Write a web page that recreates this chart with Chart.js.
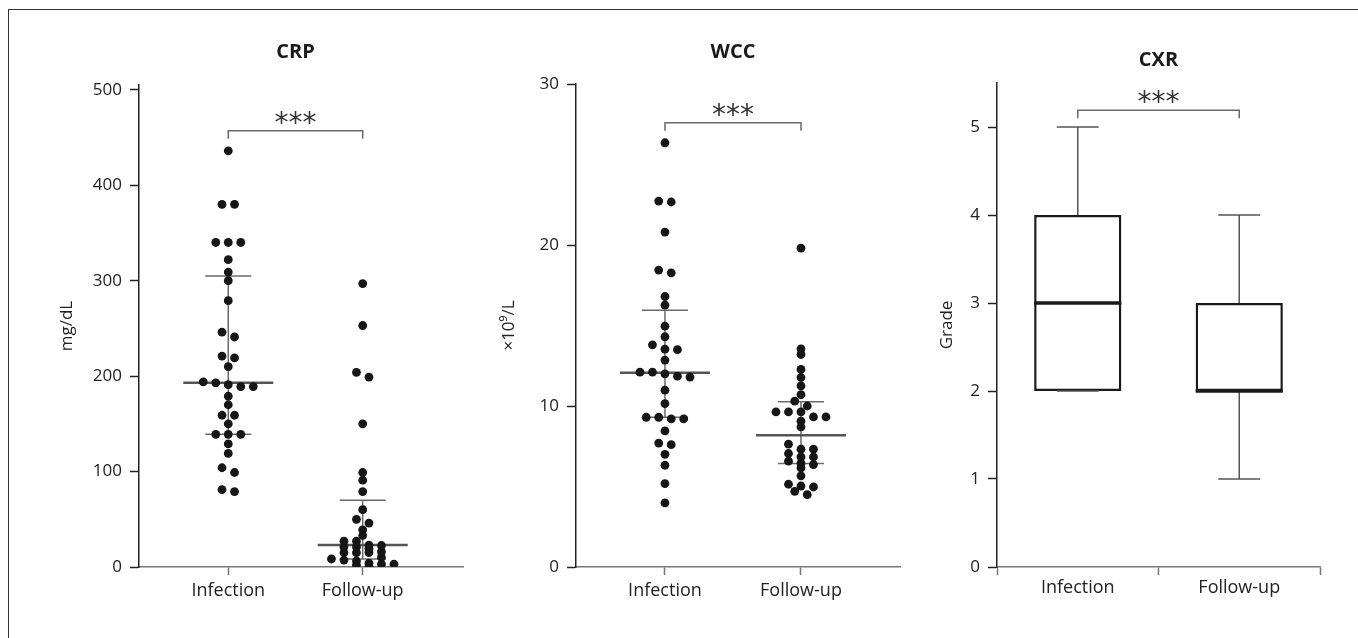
<!DOCTYPE html>
<html>
<head>
<meta charset="utf-8">
<script src="https://cdn.jsdelivr.net/npm/chart.js@4/dist/chart.umd.min.js"></script>
<style>
  html, body { margin: 0; background: #fff; overflow: hidden; }
  #frame { position: absolute; left: 8px; top: 9px; width: 1400px; height: 700px;
           border-left: 1.5px solid #333; border-top: 1.5px solid #333; }
  canvas { position: absolute; top: 0; }
</style>
</head>
<body>
<div id="frame"></div>
<canvas id="crp" style="left:20px" width="470" height="638"></canvas>
<canvas id="wcc" style="left:490px" width="430" height="638"></canvas>
<canvas id="cxr" style="left:920px" width="438" height="638"></canvas>
<script>
// ---- data ----
const groups = ['Infection', 'Follow-up'];

const crpInfection = [436, 380, 380, 340, 340, 340, 322, 309, 300, 279, 246, 241, 221, 219, 210,
  194, 193, 191, 189, 189, 179, 170, 159, 159, 150, 139, 139, 139, 129, 119, 104, 99, 81, 79];
const crpFollowUp = [297, 253, 204, 199, 150, 99, 91, 79, 60, 50, 46, 39, 33, 27, 27, 23, 22.5,
  21, 21, 19.5, 16, 15, 15, 15, 10, 8.4, 7.3, 6.3, 4, 3, 3, 2, 0.5];
const crpQ1 = [139, 8.4];
const crpMedian = [193, 23];
const crpQ3 = [305, 70];

const wccInfection = [26.35, 22.73, 22.67, 20.8, 18.44, 18.27, 16.8, 16.26, 14.96, 14.3, 13.8,
  13.53, 13.5, 12.85, 12.1, 12.1, 12.0, 11.85, 11.8, 10.98, 10.15, 9.3, 9.3, 9.2, 9.2, 8.45,
  7.7, 7.6, 7.0, 6.32, 5.18, 3.98];
const wccFollowUp = [19.8, 13.55, 13.2, 12.27, 11.77, 11.25, 10.7, 10.3, 10.0, 9.63, 9.63, 9.63,
  9.32, 9.32, 9.06, 8.7, 7.63, 7.32, 7.32, 7.05, 6.84, 6.84, 6.57, 6.43, 6.36, 6.15, 5.66,
  5.14, 5.03, 4.97, 4.7, 4.5];
const wccQ1 = [9.3, 6.43];
const wccMedian = [12.06, 8.18];
const wccQ3 = [15.95, 10.26];

const cxrMin = [2, 1];
const cxrQ1 = [2, 2];
const cxrMedian = [3, 2];
const cxrQ3 = [4, 3];
const cxrMax = [5, 4];

const titles = ['CRP', 'WCC', 'CXR'];
const units = ['mg/dL', '\u00d710\u2079/L', 'Grade'];
const yTop = [500, 30, 5];
const yStep = [100, 10, 1];
const sigLevel = [457, 27.6, 5.19];
const sigText = '***';

// ---- drawing ----
const FONT = '"Open Sans", "Noto Sans", sans-serif';
const ROW_PX = 5.5, GAP_PX = 12.5;

function seg(ctx, x1, y1, x2, y2) {
  ctx.beginPath(); ctx.moveTo(x1, y1); ctx.lineTo(x2, y2); ctx.stroke();
}

const panelPlugin = {
  id: 'panel',
  beforeDatasetsDraw(chart, args, o) {
    if (!o.q1) return;
    const { ctx, scales: { x, y } } = chart;
    ctx.save();
    o.q1.forEach((q1, i) => {
      const cx = x.getPixelForValue(o.pos[i]);
      const yl = y.getPixelForValue(q1), ym = y.getPixelForValue(o.med[i]), yu = y.getPixelForValue(o.q3[i]);
      ctx.strokeStyle = '#6a6a6a'; ctx.lineWidth = 1.5;
      seg(ctx, cx, yl, cx, yu);
      seg(ctx, cx - 23, yl, cx + 23, yl);
      seg(ctx, cx - 23, yu, cx + 23, yu);
      ctx.strokeStyle = '#555'; ctx.lineWidth = 2.5;
      seg(ctx, cx - 45, ym, cx + 45, ym);
    });
    ctx.restore();
  },
  afterDatasetsDraw(chart, args, o) {
    if (!o.box) return;
    const { ctx, scales: { x, y } } = chart;
    const b = o.box;
    ctx.save();
    b.min.forEach((mn, i) => {
      const cx = x.getPixelForValue(i);
      const half = x.getPixelForValue(0.27) - x.getPixelForValue(0);
      ctx.strokeStyle = '#555'; ctx.lineWidth = 1.5;
      seg(ctx, cx, y.getPixelForValue(b.q3[i]), cx, y.getPixelForValue(b.max[i]));
      seg(ctx, cx, y.getPixelForValue(b.q1[i]), cx, y.getPixelForValue(mn));
      seg(ctx, cx - 21, y.getPixelForValue(b.max[i]), cx + 21, y.getPixelForValue(b.max[i]));
      seg(ctx, cx - 21, y.getPixelForValue(mn), cx + 21, y.getPixelForValue(mn));
      ctx.strokeStyle = '#1a1a1a'; ctx.lineWidth = 3.5;
      seg(ctx, cx - half, y.getPixelForValue(b.med[i]), cx + half, y.getPixelForValue(b.med[i]));
    });
    ctx.restore();
  },
  afterDraw(chart, args, o) {
    const { ctx, scales: { x, y } } = chart;
    const x1 = x.getPixelForValue(o.pos[0]), x2 = x.getPixelForValue(o.pos[1]);
    ctx.save();
    ctx.fillStyle = '#1a1a1a';
    ctx.font = 'bold 20px ' + FONT;
    ctx.textAlign = 'center'; ctx.textBaseline = 'middle';
    ctx.fillText(o.title, (x1 + x2) / 2, o.titleY);
    const by = y.getPixelForValue(o.sig);
    ctx.strokeStyle = '#6a6a6a'; ctx.lineWidth = 1.5;
    ctx.beginPath();
    ctx.moveTo(x1, by + 8); ctx.lineTo(x1, by); ctx.lineTo(x2, by); ctx.lineTo(x2, by + 8);
    ctx.stroke();
    ctx.fillStyle = '#333';
    ctx.font = '28px "DejaVu Sans", sans-serif';
    ctx.textBaseline = 'alphabetic';
    ctx.fillText(sigText, (x1 + x2) / 2, by + 1);
    ctx.restore();
  }
};

function yAxis(k, max, width, titlePad) {
  return {
    min: 0, max: max,
    afterBuildTicks: (s) => {
      const t = [];
      for (let v = 0; v <= yTop[k] + 1e-9; v += yStep[k]) t.push({ value: v });
      s.ticks = t;
    },
    ticks: { color: '#222', padding: 8, font: { family: FONT, size: 17 } },
    grid: { drawOnChartArea: false, tickLength: 9, tickColor: '#222', tickWidth: 1.5 },
    border: { color: '#222', width: 1.5 },
    title: { display: true, text: units[k], color: '#222', padding: { top: titlePad, bottom: 0 },
             font: { family: FONT, size: 17 } },
    afterFit: (s) => { s.width = width; }
  };
}

function xTickFont() {
  return { family: FONT, size: 18 };
}

// beeswarm: values close in pixel height share a row, centred on the group
function swarm(chart, lists) {
  const xs = chart.scales.x, ys = chart.scales.y;
  const pxPerX = xs.getPixelForValue(1) - xs.getPixelForValue(0);
  const pts = [];
  lists.forEach((vals, g) => {
    const s = [...vals].sort((a, b) => b - a);
    let i = 0;
    while (i < s.length) {
      const y0 = ys.getPixelForValue(s[i]);
      let j = i;
      while (j < s.length && ys.getPixelForValue(s[j]) - y0 < ROW_PX) j++;
      const row = s.slice(i, j);
      row.forEach((v, k) => pts.push({ x: g + 1 + (k - (row.length - 1) / 2) * GAP_PX / pxPerX, y: v }));
      i = j;
    }
  });
  return pts;
}

function dotPanel(id, k, lists, q1, med, q3, yMax, xMin, xMax, yWidth, titlePad, padRight, padTop, titleY) {
  const chart = new Chart(document.getElementById(id), {
    type: 'scatter',
    data: { datasets: [{ data: [], pointRadius: 4.4, pointHoverRadius: 4.4,
                         backgroundColor: '#161616', borderWidth: 0 }] },
    options: {
      responsive: false, animation: false,
      layout: { padding: { left: 0, right: padRight, top: padTop, bottom: 21 } },
      plugins: {
        legend: { display: false }, tooltip: { enabled: false },
        panel: { pos: [1, 2], q1: q1, med: med, q3: q3, title: titles[k], titleY: titleY, sig: sigLevel[k] }
      },
      scales: {
        x: {
          type: 'linear', min: xMin, max: xMax,
          afterBuildTicks: (s) => { s.ticks = [{ value: 1 }, { value: 2 }]; },
          ticks: { callback: (v) => groups[v - 1], color: '#222', padding: 5, font: xTickFont() },
          grid: { drawOnChartArea: false, tickLength: 8, tickColor: '#777', tickWidth: 1.5 },
          border: { color: '#777', width: 1.5 },
          afterFit: (s) => { s.height = 50; }
        },
        y: yAxis(k, yMax, yWidth, titlePad)
      }
    },
    plugins: [panelPlugin]
  });
  chart.data.datasets[0].data = swarm(chart, lists);
  chart.update('none');
  return chart;
}

dotPanel('crp', 0, [crpInfection, crpFollowUp], crpQ1, crpMedian, crpQ3,
         505, 0.336, 2.746, 119, 37, 27, 85, 52);
dotPanel('wcc', 1, [wccInfection, wccFollowUp], wccQ1, wccMedian, wccQ3,
         30, 0.346, 2.728, 86, 9, 20, 84, 52);

new Chart(document.getElementById('cxr'), {
  type: 'bar',
  data: {
    labels: groups,
    datasets: [{
      data: cxrQ1.map((q, i) => [q, cxrQ3[i]]),
      backgroundColor: '#fff', borderColor: '#1a1a1a', borderWidth: 2.5, borderSkipped: false,
      categoryPercentage: 1, barPercentage: 0.54
    }]
  },
  options: {
    responsive: false, animation: false,
    layout: { padding: { left: 0, right: 38, top: 83, bottom: 21 } },
    plugins: {
      legend: { display: false }, tooltip: { enabled: false },
      panel: { pos: [0, 1], title: titles[2], titleY: 60, sig: sigLevel[2],
               box: { min: cxrMin, q1: cxrQ1, med: cxrMedian, q3: cxrQ3, max: cxrMax } }
    },
    scales: {
      x: {
        offset: true,
        ticks: { color: '#222', padding: 2, font: xTickFont() },
        grid: { offset: true, drawOnChartArea: false, tickLength: 8, tickColor: '#777', tickWidth: 1.5 },
        border: { color: '#777', width: 1.5 },
        afterFit: (s) => { s.height = 50; }
      },
      y: yAxis(2, 5.5, 77, 17)
    }
  },
  plugins: [panelPlugin]
});
</script>
</body>
</html>
